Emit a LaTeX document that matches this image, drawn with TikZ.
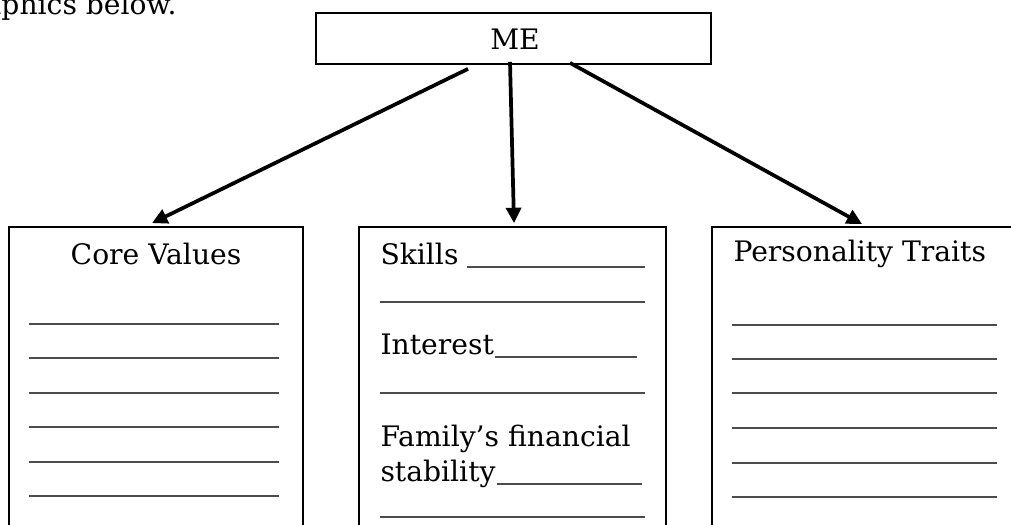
\documentclass[tikz,border=0pt]{standalone}
\usepackage{fontspec}
\setmainfont{DejaVu Serif}
\usetikzlibrary{arrows.meta,calc}
\begin{document}
\begin{tikzpicture}[x=0.39pt,y=-0.39pt,
  box/.style={draw, line width=0.7pt, inner sep=0pt},
  arr/.style={line width=1.45pt, -{Triangle[length=6pt,width=5.8pt]}},
  blank/.style={draw=black!70, line width=0.6pt},
  txt/.style={font=\fontsize{11}{13}\selectfont, inner sep=0pt}]
\useasboundingbox (0,0) rectangle (1011,525);
% top text (cut off at the left, as in the reference)
\node[txt, anchor=base east] (intro) at (177,15) {graphics below.};
% boxes
\node[box, minimum width=154.05pt, minimum height=19.89pt] (me) at (513.5,38.5) {};
\node[txt, anchor=base] (met) at (515,50) {ME};
\node[box, minimum width=114.66pt, minimum height=120.12pt] (cv) at (156,381) {};
\node[box, minimum width=119.73pt, minimum height=120.12pt] (sk) at (512.5,381) {};
\node[box, minimum width=120.12pt, minimum height=120.12pt] (pt) at (866,381) {};
% arrows
\draw[arr] ($(me.south)+(-45.5,4)$) -- ($(cv.north)+(-4,-3)$);
\draw[arr] ($(me.south)+(-3.5,-3)$) -- ($(sk.north)+(1.5,-3)$);
\draw[arr] ($(me.south)+(56.5,-2)$) -- ($(pt.north west)+(151,-2)$);
% Core Values
\node[txt, anchor=base] (cvt) at (156,265) {Core Values};
\foreach \y in {324,358,393,427,462,496} \draw[blank] (29,\y) -- (279,\y);
% Skills box
\node[txt, anchor=base west] (skt) at (380,265) {Skills};
\draw[blank] ($(skt.base east)+(8,2)$) -- (645,267);
\draw[blank] (380,302) -- (645,302);
\node[txt, anchor=base west] (int) at (380,355) {Interest};
\draw[blank] ($(int.base east)+(1,2)$) -- (637,357);
\draw[blank] (380,393) -- (645,393);
\node[txt, anchor=base west] (fam) at (380,447) {Family’s financial};
\node[txt, anchor=base west] (stab) at (380,482) {stability};
\draw[blank] ($(stab.base east)+(1,2)$) -- (642,484);
\draw[blank] (380,517) -- (645,517);
% Personality Traits
\node[txt, anchor=base west] (ptt) at (733,262) {Personality Traits};
\foreach \y in {325,359,393,428,463,497} \draw[blank] (732,\y) -- (997,\y);
\end{tikzpicture}
\end{document}
